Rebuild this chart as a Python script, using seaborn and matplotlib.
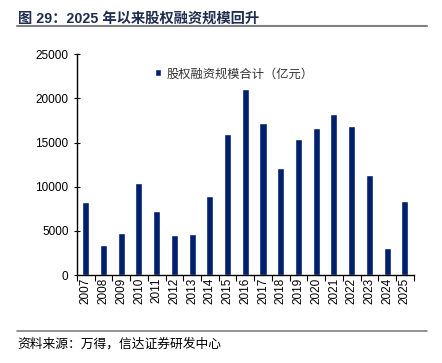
import matplotlib
matplotlib.use("Agg")
import matplotlib.pyplot as plt
import seaborn as sns
import pandas as pd
from matplotlib.lines import Line2D
from matplotlib.ticker import FixedLocator

sns.set_theme(style="white")
plt.rcParams['font.family'] = ['Liberation Sans', 'Noto Sans CJK SC', 'DejaVu Sans']

# Data
years = [str(y) for y in range(2007, 2026)]
financing = [8300, 3400, 4800, 10400, 7200, 4500, 4650, 8900, 16000, 21000,
             17200, 12100, 15400, 16650, 18200, 16900, 11300, 3100, 8400]
series_name = "股权融资规模合计（亿元）"
title_text = "图 29：2025 年以来股权融资规模回升"
source_text = "资料来源：万得，信达证券研发中心"
bar_color = "#00206e"

df = pd.DataFrame({"year": years, "value": financing})

fig = plt.figure(figsize=(4.42, 3.63), dpi=100)
ax = fig.add_axes([0.174, 0.242, 0.762, 0.609])

sns.barplot(data=df, x="year", y="value", color=bar_color, width=0.4,
            saturation=1, ax=ax, label=series_name)

ax.set_xlim(-0.5, len(years) - 0.5)
ax.set_ylim(0, 25000)
ax.set_yticks(range(0, 25001, 5000))
ax.set_xlabel("")
ax.set_ylabel("")

for s in ["top", "right"]:
    ax.spines[s].set_visible(False)
for s in ["left", "bottom"]:
    ax.spines[s].set_color("black")
    ax.spines[s].set_linewidth(1.0)

ax.tick_params(axis="y", which="major", direction="inout", length=5, width=0.8,
               labelsize=8.5, left=True, colors="black")
ax.tick_params(axis="x", which="major", length=0, labelsize=8.5, rotation=90, pad=2)
ax.xaxis.set_minor_locator(FixedLocator([i - 0.5 for i in range(len(years) + 1)]))
ax.tick_params(axis="x", which="minor", direction="out", length=4, width=0.8,
               bottom=True, color="black")
for lbl in ax.get_yticklabels() + ax.get_xticklabels():
    lbl.set_color("black")

leg = ax.legend(loc="upper left", bbox_to_anchor=(0.2, 0.99), frameon=False,
                handlelength=0.5, handleheight=0.5, handletextpad=0.4,
                prop={"family": ["Noto Sans CJK SC"], "size": 8.8})
for t in leg.get_texts():
    t.set_color("#333333")

# Header / footer
fig.text(0.04, 0.968, title_text, fontsize=10.3, fontweight="bold", color="#1f2d4f",
         va="top", ha="left", family=["Liberation Sans", "Noto Sans CJK SC"])
fig.add_artist(Line2D([0.038, 0.966], [0.928, 0.928], color="#808080", lw=1.5))
fig.add_artist(Line2D([0.038, 0.966], [0.088, 0.088], color="#808080", lw=1.2))
fig.text(0.04, 0.053, source_text, fontsize=9.2, style="italic", color="black",
         va="center", ha="left", family=["Noto Sans CJK SC"])

plt.savefig("out.png", dpi=100)
plt.close()
